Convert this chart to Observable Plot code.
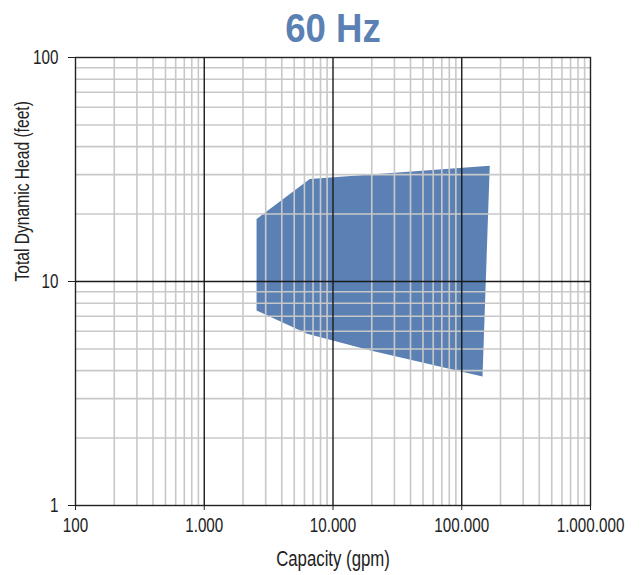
<!DOCTYPE html>
<html>
<head>
<meta charset="utf-8">
<script src="https://cdn.jsdelivr.net/npm/d3@7"></script>
<script src="https://cdn.jsdelivr.net/npm/@observablehq/plot@0.6"></script>
<style>
  html, body { margin: 0; padding: 0; background: #fff; }
</style>
</head>
<body>
<div id="chart"></div>
<script>
// ---- data ----
const titleText = "60 Hz";
const xLabel = "Capacity (gpm)";
const yLabel = "Total Dynamic Head (feet)";

const xTicks = [100, 1000, 10000, 100000, 1000000];
const yTicks = [1, 10, 100];
const minorMultipliers = [2, 3, 4, 5, 6, 7, 8, 9];

// operating envelope polygon
const capacity = [2550, 6600, 165000, 145000, 19600, 6300, 2550];
const head     = [19.0, 28.7, 32.9,   3.77,   4.92,  5.84, 7.42];

// ---- derived ----
const polygon = capacity.map((c, i) => ({capacity: c, head: head[i]}));
const xMinor = xTicks.slice(0, -1).flatMap(d => minorMultipliers.map(m => d * m));
const yMinor = yTicks.slice(0, -1).flatMap(d => minorMultipliers.map(m => d * m));
const xInnerMajor = xTicks.slice(1, -1);
const yInnerMajor = yTicks.slice(1, -1);

const locale = d3.formatLocale({decimal: ",", thousands: ".", grouping: [3], currency: ["", ""]});
const fmt = locale.format(",d");

const blue = "#5b81b4";
const font = '"Liberation Sans", Arial, sans-serif';

const chart = Plot.plot({
  width: 643,
  height: 575,
  marginLeft: 75,
  marginRight: 53,
  marginTop: 57,
  marginBottom: 70,
  style: {fontFamily: font, fontSize: "19px", color: "#222", background: "#fff"},
  x: {type: "log", domain: [100, 1000000]},
  y: {type: "log", domain: [1, 100]},
  marks: [
    Plot.line(polygon, {x: "capacity", y: "head", fill: blue, stroke: "none"}),
    Plot.ruleX(xMinor, {stroke: "#c8c8c8", strokeWidth: 1.6}),
    Plot.ruleY(yMinor, {stroke: "#c8c8c8", strokeWidth: 1.6}),
    Plot.ruleX(xInnerMajor, {stroke: "#1a1a1a", strokeWidth: 1.4}),
    Plot.ruleY(yInnerMajor, {stroke: "#1a1a1a", strokeWidth: 1.4}),
    Plot.frame({stroke: "#222", strokeWidth: 1.4}),
    Plot.axisX({ticks: xTicks, tickFormat: fmt, tickSize: 5, tickPadding: 8, label: null, fontSize: 19.5}),
    Plot.axisY({ticks: yTicks, tickFormat: fmt, tickSize: 7, tickPadding: 10, label: null, fontSize: 19.5}),
    Plot.text([titleText], {frameAnchor: "top", lineAnchor: "middle", dy: -28, fontSize: 40, fontWeight: "bold", fill: blue, className: "chart-title"}),
    Plot.text([xLabel], {frameAnchor: "bottom", lineAnchor: "middle", dy: 54, fontSize: 21.5, fill: "#222"}),
    Plot.text([yLabel], {frameAnchor: "left", lineAnchor: "middle", dx: -53, rotate: -90, fontSize: 20, fill: "#222"})
  ]
});
document.getElementById("chart").appendChild(chart);

// condense text horizontally (reference uses a condensed face)
chart.querySelectorAll("text").forEach(t => {
  const isTitle = !!t.closest(".chart-title");
  const squeeze = isTitle ? 0.915 : 0.78;
  const targets = t.querySelectorAll("tspan").length ? t.querySelectorAll("tspan") : [t];
  targets.forEach(el => {
    const w = el.getComputedTextLength();
    if (w > 0) {
      el.setAttribute("textLength", (w * squeeze).toFixed(2));
      el.setAttribute("lengthAdjust", "spacingAndGlyphs");
    }
  });
});
</script>
</body>
</html>
